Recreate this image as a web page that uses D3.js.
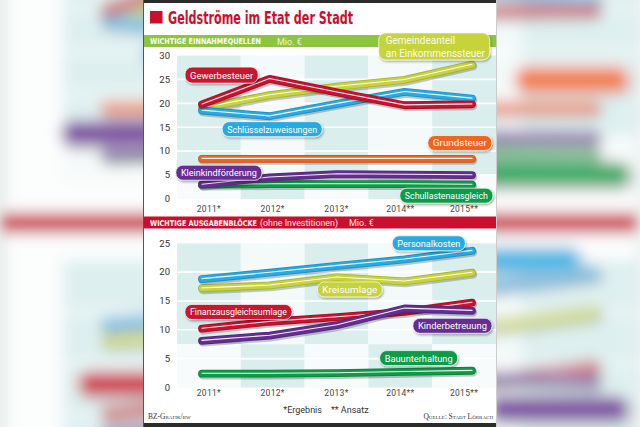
<!DOCTYPE html>
<html><head><meta charset="utf-8">
<script src="https://cdn.jsdelivr.net/npm/d3@7"></script>
<style>body{margin:0;background:#f2f7f7;overflow:hidden} svg{display:block}</style>
</head><body>
<script>
// ---------- DATA ----------
const years = ["2011*", "2012*", "2013*", "2014**", "2015**"];
const yTicksTop = [0, 5, 10, 15, 20, 25, 30];
const yTicksBottom = [0, 5, 10, 15, 20, 25];

// Wichtige Einnahmequellen (Mio. €)
const gewerbesteuer   = [19.8, 25.1, 22.3, 19.6, 19.8];
const gemeindeanteil  = [19.0, 21.7, 23.5, 24.9, 28.1];
const schluessel      = [18.5, 17.3, 19.9, 22.4, 21.0];
const grundsteuer     = [8.4, 8.4, 8.4, 8.4, 8.4];
const kleinkind       = [3.0, 4.5, 5.2, 5.1, 5.0];
const schullasten     = [3.0, 3.1, 3.1, 3.1, 3.0];

// Wichtige Ausgabenblöcke (Mio. €)
const personalkosten  = [18.8, 19.9, 21.1, 22.2, 23.7];
const kreisumlage     = [17.2, 17.7, 19.1, 18.4, 19.9];
const finanzausgleich = [10.2, 11.4, 12.2, 13.1, 14.7];
const kinderbetreuung = [8.1, 9.0, 10.8, 13.7, 13.3];
const bauunterhaltung = [2.4, 2.4, 2.5, 2.7, 2.9];

// ---------- STYLE / LAYOUT ----------
const C = {
  red: "#c8122e", yellow: "#c6d33a", blue: "#27aae1",
  orange: "#f26322", purple: "#662d91", green: "#0e9b48"
};
const teal = "#daeeee";

const topSeries = [
  {name: "Schullastenausgleich", values: schullasten, color: C.green},
  {name: "Kleinkindförderung", values: kleinkind, color: C.purple},
  {name: "Grundsteuer", values: grundsteuer, color: C.orange},
  {name: "Gemeindeanteil\nan Einkommenssteuer", values: gemeindeanteil, color: C.yellow},
  {name: "Schlüsselzuweisungen", values: schluessel, color: C.blue},
  {name: "Gewerbesteuer", values: gewerbesteuer, color: C.red}
];
const bottomSeries = [
  {name: "Bauunterhaltung", values: bauunterhaltung, color: C.green},
  {name: "Kreisumlage", values: kreisumlage, color: C.yellow},
  {name: "Personalkosten", values: personalkosten, color: C.blue},
  {name: "Finanzausgleichsumlage", values: finanzausgleich, color: C.red},
  {name: "Kinderbetreuung", values: kinderbetreuung, color: C.purple}
];
// label placement: i = position along year axis (index), v = value; w,h in px
const topLabels = {
  "Gemeindeanteil\nan Einkommenssteuer": {i: 3.44, v: 31.9, w: 111, h: 27},
  "Gewerbesteuer": {i: 0.29, v: 25.9, w: 73, h: 16},
  "Schlüsselzuweisungen": {i: 1.04, v: 14.6, w: 100, h: 15},
  "Grundsteuer": {i: 3.82, v: 11.7, w: 64, h: 15},
  "Kleinkindförderung": {i: 0.25, v: 5.5, w: 86, h: 15},
  "Schullastenausgleich": {i: 3.62, v: 0.7, w: 93, h: 15}
};
const bottomLabels = {
  "Personalkosten": {i: 3.36, v: 25.0, w: 73, h: 15},
  "Kreisumlage": {i: 2.19, v: 17.0, w: 65, h: 15},
  "Finanzausgleichsumlage": {i: 0.54, v: 13.1, w: 107, h: 15},
  "Kinderbetreuung": {i: 3.71, v: 10.7, w: 79, h: 15},
  "Bauunterhaltung": {i: 3.21, v: 5.1, w: 78, h: 15}
};

const W = 640, H = 427;
const PX0 = 144, PX1 = 496;

const xBand = d3.scaleBand().domain(years).range([177, 496]);
const xIdx = d3.scaleLinear().domain([0, years.length - 1]).range([202, 472]);
const yTop = d3.scaleLinear().domain([0, 30]).range([199, 55.5]);
const yBot = d3.scaleLinear().domain([0, 25]).range([387.5, 243.3]);

function darker(c, k) { return d3.color(c).darker(k).formatHex(); }

const svg = d3.select("body").append("svg").attr("width", W).attr("height", H);
const defs = svg.append("defs");
const fb = defs.append("filter").attr("id", "blur").attr("filterUnits", "userSpaceOnUse")
  .attr("x", -100).attr("y", -100).attr("width", W + 200).attr("height", H + 200);
fb.append("feGaussianBlur").attr("stdDeviation", 7);
const fs = defs.append("filter").attr("id", "shadow").attr("x", "-20%").attr("y", "-40%")
  .attr("width", "140%").attr("height", "180%");
fs.append("feDropShadow").attr("dx", 1).attr("dy", 1.5).attr("stdDeviation", 0.9)
  .attr("flood-color", "#000").attr("flood-opacity", 0.35);

svg.append("rect").attr("width", W).attr("height", H).attr("fill", "#f2f7f7");

function drawPanel(g, cfg) {
  const y = cfg.y;
  const yMax = y.domain()[1];
  // checker background
  years.forEach((yr, i) => {
    g.append("rect").attr("x", xBand(yr)).attr("width", xBand.bandwidth())
      .attr("y", y(yMax)).attr("height", y(cfg.split) - y(yMax))
      .attr("fill", i % 2 === 0 ? teal : "#f4fafa");
    g.append("rect").attr("x", xBand(yr)).attr("width", xBand.bandwidth())
      .attr("y", y(cfg.split)).attr("height", y(0) - y(cfg.split))
      .attr("fill", i % 2 === 1 ? teal : "#f7fbfb");
  });
  // gridlines
  g.selectAll(null).data(cfg.ticks.filter(t => t > 0 && t < yMax)).enter().append("line")
    .attr("x1", 177).attr("x2", 496).attr("y1", d => y(d)).attr("y2", d => y(d))
    .attr("stroke", "#fff").attr("stroke-width", 1.6);
  // y labels
  g.selectAll(null).data(cfg.ticks).enter().append("text")
    .attr("x", 170).attr("y", d => y(d)).attr("dy", "0.35em").attr("text-anchor", "end")
    .attr("font-family", "Roboto, 'Liberation Sans', sans-serif").attr("font-size", 9.5)
    .attr("fill", "#333").text(d => d);
  // x labels
  g.selectAll(null).data(years).enter().append("text")
    .attr("x", d => xBand(d) + xBand.bandwidth() / 2).attr("y", cfg.xLabelY)
    .attr("text-anchor", "middle").attr("font-family", "Roboto, 'Liberation Sans', sans-serif")
    .attr("font-size", 8.5).attr("letter-spacing", 0.3).attr("fill", "#444").text(d => d);
  // lines
  const line = d3.line().x((d, i) => xIdx(i)).y(d => y(d));
  cfg.series.forEach(s => {
    const sg = g.append("g");
    sg.append("path").attr("d", line(s.values)).attr("fill", "none")
      .attr("stroke", "rgba(0,0,0,0.22)").attr("stroke-width", 8.5)
      .attr("stroke-linecap", "round").attr("stroke-linejoin", "round")
      .attr("transform", "translate(1,1.6)");
    sg.append("path").attr("d", line(s.values)).attr("fill", "none")
      .attr("stroke", darker(s.color, 0.5)).attr("stroke-width", 7.8)
      .attr("stroke-linecap", "round").attr("stroke-linejoin", "round");
    sg.append("path").attr("d", line(s.values)).attr("fill", "none")
      .attr("stroke", s.color).attr("stroke-width", 6.1)
      .attr("stroke-linecap", "round").attr("stroke-linejoin", "round");
    sg.append("path").attr("d", line(s.values)).attr("fill", "none")
      .attr("stroke", "#fff").attr("stroke-opacity", 0.92).attr("stroke-width", 1.1)
      .attr("stroke-linecap", "round").attr("stroke-linejoin", "round")
      .attr("transform", "translate(0,-0.4)");
  });
  // labels
  cfg.series.forEach(s => {
    const L = cfg.labels[s.name];
    const cx = xIdx(L.i), cy = y(L.v);
    const lg = g.append("g");
    lg.append("rect").attr("x", cx - L.w / 2).attr("y", cy - L.h / 2)
      .attr("width", L.w).attr("height", L.h).attr("rx", 7).attr("ry", 7)
      .attr("fill", s.color).attr("stroke", "rgba(255,255,255,0.7)").attr("stroke-width", 1)
      .attr("filter", "url(#shadow)");
    const lines = s.name.split("\n");
    if (lines.length === 1) {
      lg.append("text").attr("x", cx).attr("y", cy).attr("dy", "0.36em")
        .attr("text-anchor", "middle").attr("font-family", "Roboto, 'Liberation Sans', sans-serif")
        .attr("font-size", 9.6).attr("fill", "#fff")
        .attr("textLength", L.w - 10).attr("lengthAdjust", "spacingAndGlyphs").text(s.name);
    } else {
      lines.forEach((t, k) => {
        lg.append("text").attr("x", cx - L.w / 2 + 7).attr("y", cy - L.h / 2 + 11.5 + k * 12.5)
          .attr("font-family", "Roboto, 'Liberation Sans', sans-serif")
          .attr("font-size", 10).attr("fill", "#fff").attr("fill-opacity", 0.95).text(t);
      });
    }
  });
}

function drawChart(g) {
  g.append("rect").attr("x", PX0).attr("y", 0).attr("width", PX1 - PX0).attr("height", H).attr("fill", "#fff");
  g.append("rect").attr("x", PX0).attr("y", 0).attr("width", PX1 - PX0).attr("height", 3).attr("fill", "#2b2b2b");
  g.append("rect").attr("x", PX0).attr("y", 423).attr("width", PX1 - PX0).attr("height", 4).attr("fill", "#2b2b2b");
  g.append("line").attr("x1", PX0 - 0.5).attr("x2", PX0 - 0.5).attr("y1", 0).attr("y2", H).attr("stroke", "#555").attr("stroke-width", 1);
  g.append("line").attr("x1", PX1 + 0.5).attr("x2", PX1 + 0.5).attr("y1", 0).attr("y2", H).attr("stroke", "#ccc").attr("stroke-width", 1);

  // title
  g.append("rect").attr("x", 150).attr("y", 11).attr("width", 12.5).attr("height", 12.5).attr("fill", "#c8102e");
  g.append("text").attr("x", 168).attr("y", 23.5)
    .attr("font-family", "'Liberation Sans Narrow', 'DejaVu Sans Condensed', sans-serif")
    .attr("font-weight", "bold").attr("font-size", 18).attr("fill", "#c8102e")
    .attr("textLength", 185).attr("lengthAdjust", "spacingAndGlyphs")
    .text("Geldströme im Etat der Stadt");

  // header bars
  g.append("rect").attr("x", PX0).attr("y", 35).attr("width", PX1 - PX0).attr("height", 12).attr("fill", "#8cc63f");
  g.append("text").attr("x", 150).attr("y", 44.3)
    .attr("font-family", "'Liberation Sans Narrow', 'DejaVu Sans Condensed', sans-serif")
    .attr("font-weight", "bold").attr("font-size", 7.8).attr("fill", "#fff")
    .attr("textLength", 111).attr("lengthAdjust", "spacingAndGlyphs").text("WICHTIGE EINNAHMEQUELLEN");
  g.append("text").attr("x", 277).attr("y", 44.5)
    .attr("font-family", "Roboto, 'Liberation Sans', sans-serif").attr("font-size", 9)
    .attr("fill", "#fff").attr("fill-opacity", 0.85).text("Mio. €");

  g.append("rect").attr("x", PX0).attr("y", 216.5).attr("width", PX1 - PX0).attr("height", 12).attr("fill", "#c8102e");
  g.append("text").attr("x", 150).attr("y", 225.8)
    .attr("font-family", "'Liberation Sans Narrow', 'DejaVu Sans Condensed', sans-serif")
    .attr("font-weight", "bold").attr("font-size", 7.8).attr("fill", "#fff")
    .attr("textLength", 107).attr("lengthAdjust", "spacingAndGlyphs").text("WICHTIGE AUSGABENBLÖCKE");
  g.append("text").attr("x", 260).attr("y", 226)
    .attr("font-family", "Roboto, 'Liberation Sans', sans-serif").attr("font-size", 8.8)
    .attr("fill", "#fde4e8").attr("textLength", 78).attr("lengthAdjust", "spacingAndGlyphs")
    .text("(ohne Investitionen)");
  g.append("text").attr("x", 349).attr("y", 226)
    .attr("font-family", "Roboto, 'Liberation Sans', sans-serif").attr("font-size", 9)
    .attr("fill", "#fde4e8").text("Mio. €");

  drawPanel(g, {y: yTop, ticks: yTicksTop, split: 5, series: topSeries, labels: topLabels, xLabelY: 212});
  drawPanel(g, {y: yBot, ticks: yTicksBottom, split: 7.5, series: bottomSeries, labels: bottomLabels, xLabelY: 396});

  // footer
  g.append("text").attr("x", 148).attr("y", 419)
    .attr("font-family", "'Liberation Serif', serif").attr("font-size", 7.5)
    .attr("font-variant", "small-caps").attr("fill", "#333").text("BZ-Grafik/bw");
  g.append("text").attr("x", 493).attr("y", 419).attr("text-anchor", "end")
    .attr("font-family", "'Liberation Serif', serif").attr("font-size", 7.5)
    .attr("font-variant", "small-caps").attr("fill", "#333").text("Quelle: Stadt Lörrach");
  g.append("text").attr("x", 326).attr("y", 413).attr("text-anchor", "middle")
    .attr("font-family", "Roboto, 'Liberation Sans', sans-serif").attr("font-size", 9)
    .attr("fill", "#333").attr("xml:space", "preserve").text("*Ergebnis    ** Ansatz");
}

// blurred, enlarged copy as background (as in the photo); its texts are dropped
const bg = svg.append("g").attr("filter", "url(#blur)").attr("opacity", 0.8)
  .append("g").attr("transform", "translate(320,222) scale(1.8) translate(-320,-222)");
drawChart(bg);
bg.selectAll("text").remove();

drawChart(svg.append("g"));
</script>
</body></html>
